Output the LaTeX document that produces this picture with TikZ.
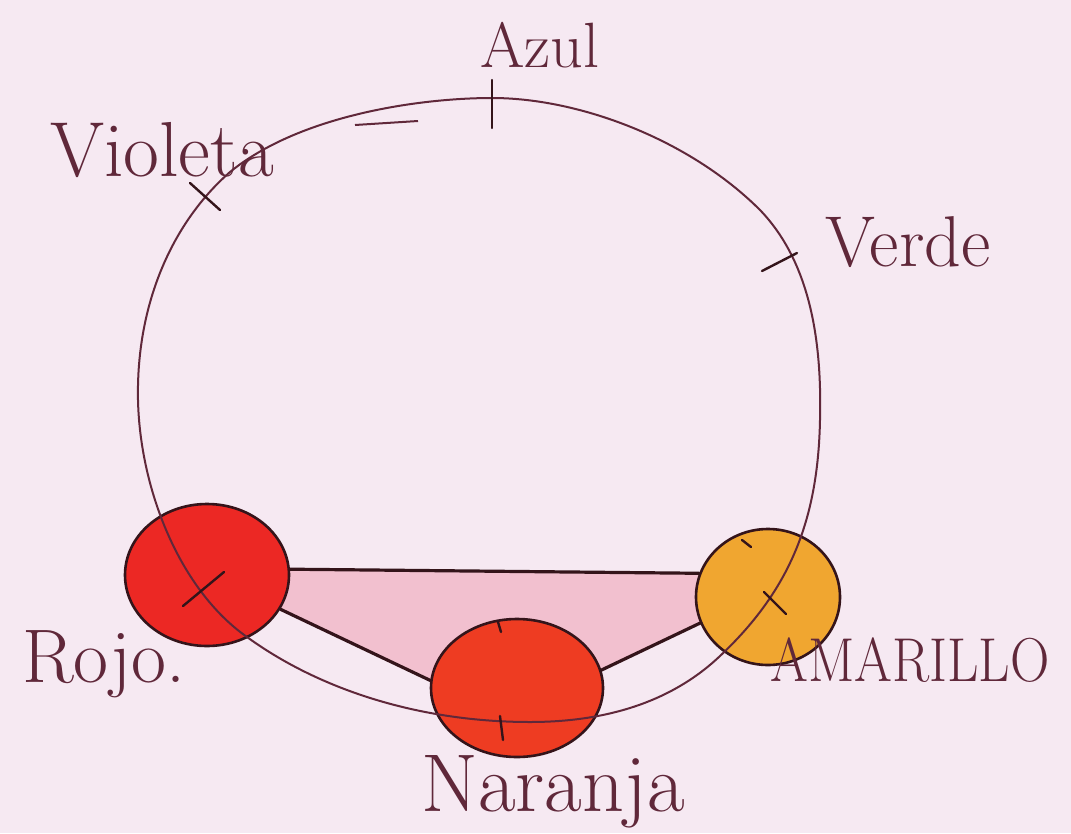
\documentclass[tikz,border=0pt]{standalone}
\usetikzlibrary{shapes.geometric}
\pgfdeclarelayer{back}
\pgfsetlayers{back,main}
\definecolor{bg}{RGB}{246,233,242}
\definecolor{ink}{RGB}{96,40,58}
\definecolor{dark}{RGB}{52,20,26}
\definecolor{rojo}{RGB}{236,40,36}
\definecolor{naranja}{RGB}{238,60,34}
\definecolor{amarillo}{RGB}{240,166,48}
\definecolor{rosa}{RGB}{242,192,207}
\begin{document}
\begin{tikzpicture}[x=1pt,y=-1pt,
  lab/.style={text=ink,inner sep=0pt},
  ball/.style={ellipse,draw=dark,line width=2.6pt,inner sep=0pt},
  edge/.style={draw=dark,line width=3.2pt,line cap=round},
  wheel/.style={draw=ink,line width=2pt},
  tick/.style={draw=dark,line width=2.4pt,line cap=round}]
\begin{pgfonlayer}{back}
\fill[bg] (0,0) rectangle (1071,833);
\end{pgfonlayer}
\useasboundingbox (0,0) rectangle (1071,833);

% colour balls
\node[ball,fill=rojo,minimum width=164pt,minimum height=142pt] (rojo) at (207,575) {};
\node[ball,fill=naranja,minimum width=172pt,minimum height=138pt] (naranja) at (517,688) {};
\node[ball,fill=amarillo,minimum width=144pt,minimum height=136pt] (amarillo) at (768,597) {};

% triangle fill and edges (behind the balls)
\begin{pgfonlayer}{back}
\fill[rosa] (rojo.4) -- (amarillo.161) -- (amarillo.201) -- (naranja.12) -- (naranja.175) -- (rojo.-25) -- cycle;
\draw[edge] (rojo.4) -- (amarillo.161);
\draw[edge] (rojo.-25) -- (naranja.175);
\draw[edge] (naranja.12) -- (amarillo.201);
\end{pgfonlayer}

% the wheel
\draw[wheel] (492,98) .. controls (580,98) and (690,140) .. (760,210)
  .. controls (810,262) and (822,340) .. (820,420)
  .. controls (818,520) and (790,590) .. (720,656)
  .. controls (680,694) and (620,722) .. (530,722)
  .. controls (420,722) and (320,690) .. (247,637)
  .. controls (180,590) and (140,490) .. (138,400)
  .. controls (136,300) and (175,220) .. (230,172)
  .. controls (300,115) and (420,98) .. (492,98) -- cycle;
\draw[wheel] (355,125) -- (418,121);

% ticks
\coordinate (tA1) at (492,80); \coordinate (tA2) at (492,128);
\draw[tick] (tA1) -- (tA2);
\coordinate (tV1) at (190,183); \coordinate (tV2) at (220,210);
\draw[tick] (tV1) -- (tV2);
\coordinate (tG1) at (762,271); \coordinate (tG2) at (797,253);
\draw[tick] (tG1) -- (tG2);
\coordinate (tR1) at (183,606); \coordinate (tR2) at (224,572);
\draw[tick] (tR1) -- (tR2);
\coordinate (tY1) at (764,592); \coordinate (tY2) at (786,614);
\draw[tick] (tY1) -- (tY2);
\coordinate (tN1) at (500,716); \coordinate (tN2) at (503,740);
\draw[tick] (tN1) -- (tN2);
\coordinate (tN3) at (498,622); \coordinate (tN4) at (501,632);
\draw[tick] (tN3) -- (tN4);
\coordinate (tY3) at (742,540); \coordinate (tY4) at (751,547);
\draw[tick] (tY3) -- (tY4);

% labels
\node[lab,font=\fontsize{64}{64}\selectfont] (azul) at (540,45) {Azul};
\node[lab,font=\fontsize{78}{78}\selectfont] (violeta) at (162,150) {Violeta};
\node[lab,font=\fontsize{72}{72}\selectfont] (verde) at (908,242) {Verde};
\node[lab,font=\fontsize{76}{76}\selectfont] (rojol) at (104,664) {Rojo.};
\node[lab,font=\fontsize{62}{62}\selectfont] (amarillol) at (910,660) {\scalebox{0.88}[1]{AMARILLO}};
\node[lab,font=\fontsize{82}{82}\selectfont] (naranjal) at (553,792) {Naranja};
\end{tikzpicture}
\end{document}
